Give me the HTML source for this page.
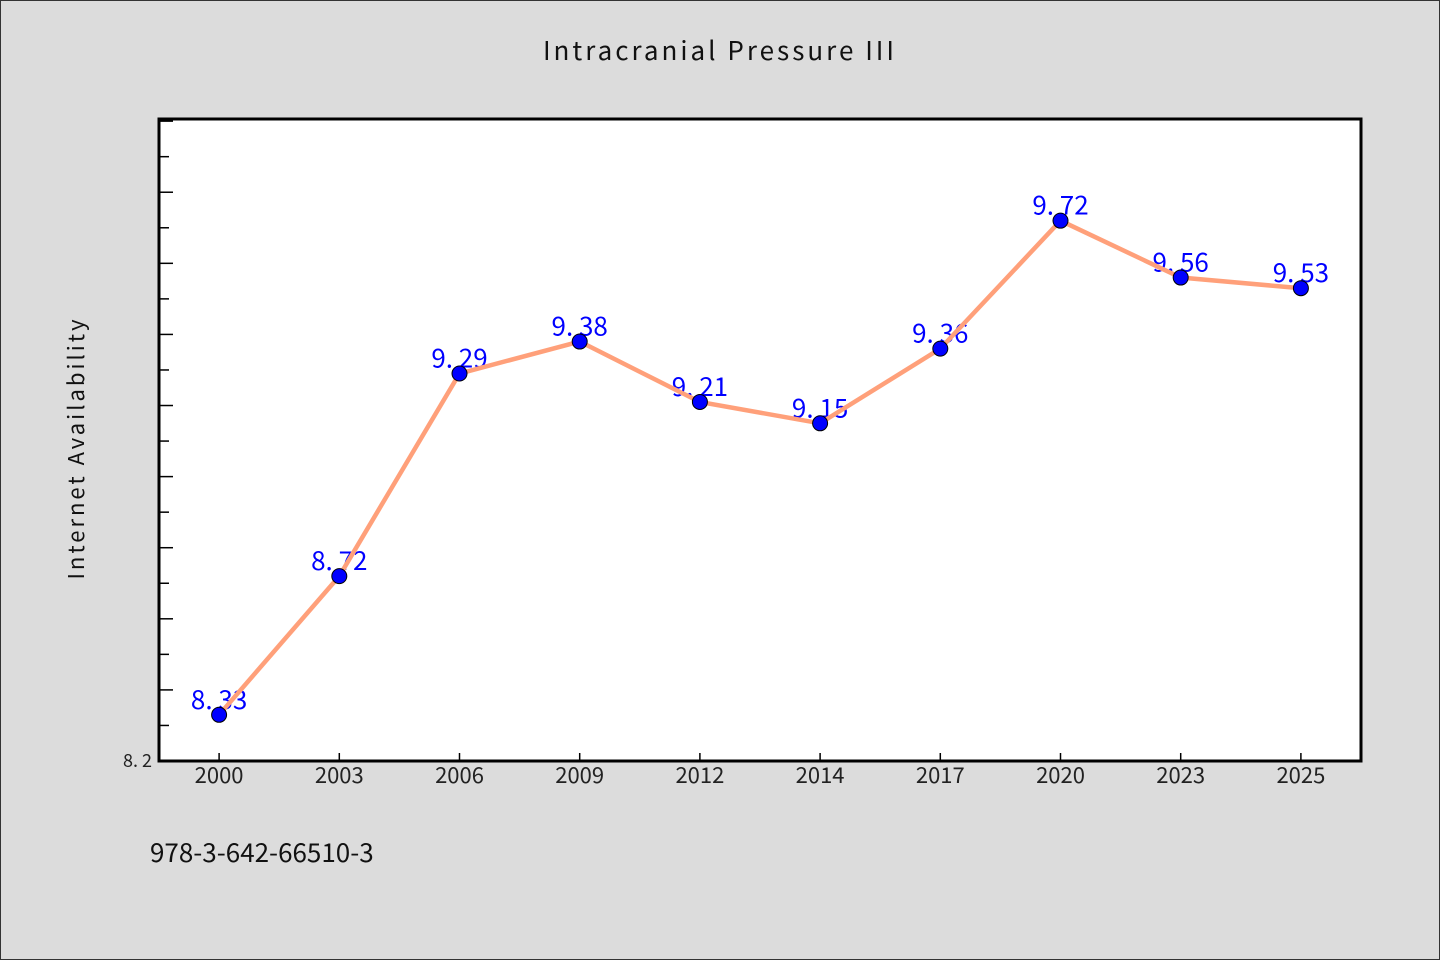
<!DOCTYPE html>
<html><head><meta charset="utf-8"><style>
html,body{margin:0;padding:0;background:#dcdcdc;}
svg{display:block;font-family:"WenQuanYi Zen Hei","Noto Sans CJK SC",sans-serif;}
</style></head><body>
<svg width="1440" height="960" viewBox="0 0 1440 960">
<rect x="0.5" y="0.5" width="1439" height="959" fill="#dcdcdc" stroke="#333" stroke-width="1"/>
<text x="720" y="60" text-anchor="middle" font-size="26" letter-spacing="3" fill="#111">Intracranial Pressure III</text>
<rect x="159" y="119" width="1202" height="642" fill="#fff"/>
<text transform="translate(84,448) rotate(-90)" text-anchor="middle" font-size="22" letter-spacing="3" fill="#111">Internet Availability</text>
<text x="150" y="862" font-size="26" fill="#111">978-3-642-66510-3</text>
<g id="ticks"></g>
<g id="labels"></g>
<g id="series"></g>
<rect x="159" y="119" width="1202" height="642" fill="none" stroke="#000" stroke-width="3"/>
</svg>
<script>
const categories=["2000","2003","2006","2009","2012","2014","2017","2020","2023","2025"];
const values=[8.33,8.72,9.29,9.38,9.21,9.15,9.36,9.72,9.56,9.53];
const yMin=8.2, yMax=10.006;
const L=159,R=1361,T=119,B=761;
const NS="http://www.w3.org/2000/svg";
const bw=(R-L)/categories.length;
const xs=i=>L+bw*(i+0.5);
const ys=v=>B-(v-yMin)/(yMax-yMin)*(B-T);
function mk(tag,attrs,parent){const e=document.createElementNS(NS,tag);for(const k in attrs)e.setAttribute(k,attrs[k]);parent.appendChild(e);return e;}
const tg=document.getElementById('ticks');
for(let k=1;k<=18;k++){
  const v=yMin+k*0.1; const y=ys(v);
  const t=mk('line',{x1:L,x2:L+(k%2===0?14:10),y1:y,y2:y,stroke:'#000','stroke-width':1.5},tg);
  
  
}
const yl=mk('text',{x:152,y:767,'text-anchor':'end','font-size':18,fill:'#222'},tg);
yl.textContent="8. 2";


categories.forEach((c,i)=>{
  const x=xs(i);
  const t=mk('line',{x1:x,x2:x,y1:B,y2:B-8,stroke:'#000','stroke-width':1.5},tg);
  
  
  const l=mk('text',{x:x,y:783,'text-anchor':'middle','font-size':22,fill:'#222'},tg);
  l.textContent=c;
  
  
});
const lg=document.getElementById('labels');
values.forEach((v,i)=>{
  const l=mk('text',{x:xs(i),y:ys(v)-6,'text-anchor':'middle','font-size':26,fill:'#0000ff'},lg);
  l.textContent=v.toFixed(2).replace('.','. ');
  
  
});
const sg=document.getElementById('series');
const line=mk('polyline',{points:values.map((v,i)=>xs(i)+','+ys(v)).join(' '),fill:'none',stroke:'#ffa07a','stroke-width':4.5},sg);


values.forEach((v,i)=>{
  const c=mk('circle',{cx:xs(i),cy:ys(v),r:7.5,fill:'#0000ff',stroke:'#000','stroke-width':1},sg);
  
  
});
</script>
</body></html>
